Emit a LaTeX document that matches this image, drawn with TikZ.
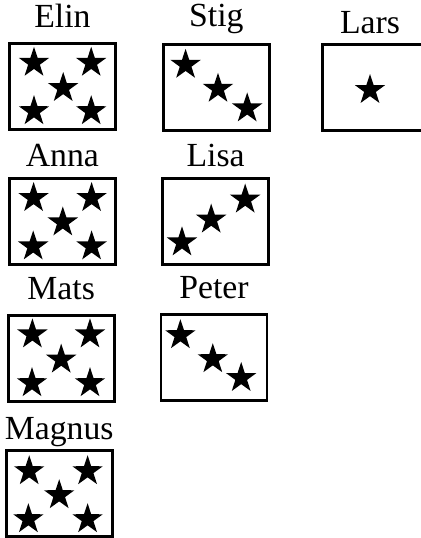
\documentclass[tikz,border=0pt]{standalone}
\usepackage{fontspec}
\setmainfont{Liberation Serif}
\usepackage{tikz}
\usetikzlibrary{shapes.geometric, positioning}

\begin{document}
\begin{tikzpicture}[
    card/.style = {rectangle, draw=black, line width=2.1pt, minimum width=2.65cm, minimum height=2.15cm, inner sep=0pt},
    who/.style = {font=\fontsize{24}{28}\selectfont, inner sep=0pt, anchor=base},
    st/.style = {star, star points=5, star point ratio=2.6, fill=black, draw=none, inner sep=0pt, minimum size=0.8cm}
]
\useasboundingbox (0,0) rectangle (10.5,-13.45);

% boxes
\node (elin) [card] at (1.56,-2.17) {};
\node (stig) [card] at (5.41,-2.18) {};
\node (lars) [card, minimum width=2.5cm] at (9.31,-2.19) {};
\node (anna) [card] at (1.56,-5.53) {};
\node (lisa) [card] at (5.39,-5.54) {};
\node (mats) [card] at (1.53,-8.96) {};
\node (peter) [card] at (5.35,-8.94) {};
\node (magnus) [card] at (1.48,-12.34) {};

% names
\node (elint) [who, above=0.36cm of elin.north, anchor=base] {Elin};
\node (stigt) [who, above=0.41cm of stig.north, anchor=base] {Stig};
\node (larst) [who, above=0.24cm of lars.north, anchor=base, xshift=-0.06cm] {Lars};
\node (annat) [who, above=0.26cm of anna.north, anchor=base] {Anna};
\node (lisat) [who, above=0.26cm of lisa.north, anchor=base] {Lisa};
\node (matst) [who, above=0.36cm of mats.north, anchor=base] {Mats};
\node (petert) [who, above=0.36cm of peter.north, anchor=base] {Peter};
\node (magnust) [who, above=0.24cm of magnus.north, anchor=base] {Magnus};

% stars
\node (elin1) [st] at ([shift={(-0.71,0.6)}]elin.center) {};
\node (elin2) [st] at ([shift={(0.72,0.6)}]elin.center) {};
\node (elin3) [st] at ([shift={(0.02,-0.03)}]elin.center) {};
\node (elin4) [st] at ([shift={(-0.71,-0.61)}]elin.center) {};
\node (elin5) [st] at ([shift={(0.72,-0.61)}]elin.center) {};

\node (stig1) [st] at ([shift={(-0.77,0.56)}]stig.center) {};
\node (stig2) [st] at ([shift={(0.04,-0.04)}]stig.center) {};
\node (stig3) [st] at ([shift={(0.77,-0.53)}]stig.center) {};

\node (lars1) [st] at ([shift={(-0.06,-0.06)}]lars.center) {};

\node (anna1) [st] at ([shift={(-0.72,0.58)}]anna.center) {};
\node (anna2) [st] at ([shift={(0.73,0.58)}]anna.center) {};
\node (anna3) [st] at ([shift={(0.01,-0.03)}]anna.center) {};
\node (anna4) [st] at ([shift={(-0.73,-0.63)}]anna.center) {};
\node (anna5) [st] at ([shift={(0.73,-0.63)}]anna.center) {};

\node (lisa1) [st] at ([shift={(-0.84,-0.52)}]lisa.center) {};
\node (lisa2) [st] at ([shift={(-0.11,0.05)}]lisa.center) {};
\node (lisa3) [st] at ([shift={(0.74,0.55)}]lisa.center) {};

\node (mats1) [st] at ([shift={(-0.72,0.6)}]mats.center) {};
\node (mats2) [st] at ([shift={(0.72,0.6)}]mats.center) {};
\node (mats3) [st] at ([shift={(0,-0.03)}]mats.center) {};
\node (mats4) [st] at ([shift={(-0.73,-0.62)}]mats.center) {};
\node (mats5) [st] at ([shift={(0.72,-0.62)}]mats.center) {};

\node (peter1) [st] at ([shift={(-0.84,0.56)}]peter.center) {};
\node (peter2) [st] at ([shift={(-0.03,-0.04)}]peter.center) {};
\node (peter3) [st] at ([shift={(0.68,-0.51)}]peter.center) {};

\node (magnus1) [st] at ([shift={(-0.75,0.56)}]magnus.center) {};
\node (magnus2) [st] at ([shift={(0.71,0.56)}]magnus.center) {};
\node (magnus3) [st] at ([shift={(0,-0.04)}]magnus.center) {};
\node (magnus4) [st] at ([shift={(-0.77,-0.64)}]magnus.center) {};
\node (magnus5) [st] at ([shift={(0.71,-0.64)}]magnus.center) {};
\end{tikzpicture}
\end{document}
